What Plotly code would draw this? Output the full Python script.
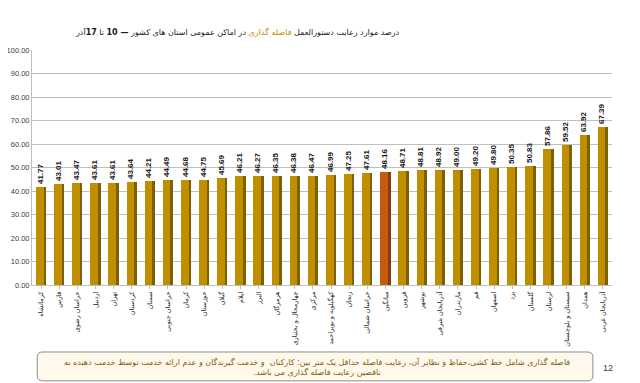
import plotly.graph_objects as go

provinces = [
    "کرمانشاه", "فارس", "خراسان رضوی", "اردبیل", "تهران", "کردستان", "سمنان",
    "خراسان جنوبی", "کرمان", "خوزستان", "گیلان", "ایلام", "البرز", "هرمزگان",
    "چهارمحال و بختیاری", "مرکزی", "کهگیلویه و بویراحمد", "زنجان", "خراسان شمالی",
    "میانگین", "قزوین", "بوشهر", "آذربایجان شرقی", "مازندران", "قم", "اصفهان",
    "یزد", "گلستان", "لرستان", "سیستان و بلوچستان", "همدان", "آذربایجان غربی",
]
values = [
    41.77, 43.01, 43.47, 43.61, 43.61, 43.64, 44.21, 44.49, 44.68, 44.75, 45.69,
    46.21, 46.27, 46.35, 46.38, 46.47, 46.99, 47.25, 47.61, 48.16, 48.71, 48.81,
    48.92, 49.00, 49.20, 49.80, 50.35, 50.83, 57.86, 59.52, 63.92, 67.39,
]
y_ticks = [0, 10, 20, 30, 40, 50, 60, 70, 80, 90, 100]
highlight = "میانگین"

face_colors = ["#C55A11" if p == highlight else "#BF8F00" for p in provinces]
side_colors = ["#843C0C" if p == highlight else "#7F6000" for p in provinces]

fig = go.Figure()
fig.add_trace(go.Bar(
    x=provinces, y=values, marker=dict(color=side_colors, line=dict(width=0)),
    offset=0.14, width=0.14, hoverinfo="skip", showlegend=False,
))
fig.add_trace(go.Bar(
    x=provinces, y=values, marker=dict(color=face_colors, line=dict(width=0)),
    offset=-0.28, width=0.42, showlegend=False,
    text=[f"<b>{v:.2f}</b>" for v in values], textposition="outside", textangle=-90,
    constraintext="none", cliponaxis=False,
    textfont=dict(family="Arial, Liberation Sans", size=8, color="#1a1a1a"),
))

# page body adds an 8px offset; figure sized to fit the 640x383 window
fig.update_layout(
    width=632, height=375,
    margin=dict(l=24, r=28, t=42, b=98),
    paper_bgcolor="white", plot_bgcolor="white",
    barmode="overlay", bargap=0.0,
    font=dict(family="DejaVu Sans", color="#333333"),
)
fig.update_yaxes(
    range=[0, 100], tickvals=y_ticks, ticktext=[f"{t:.2f}" for t in y_ticks],
    tickfont=dict(family="Liberation Sans, Arial", size=7.5, color="#404040"),
    showgrid=True, gridcolor="#BFBFBF", gridwidth=1,
    showline=True, linecolor="#BFBFBF", linewidth=1,
    ticks="", zeroline=False, automargin=False,
)
fig.update_xaxes(
    tickangle=-90, tickfont=dict(family="DejaVu Sans", size=6.5, color="#262626"),
    showline=True, linecolor="#BFBFBF", linewidth=1,
    ticks="outside", ticklen=3, tickcolor="#BFBFBF",
    showgrid=False, automargin=False,
)

# title
fig.add_annotation(
    xref="paper", yref="paper", x=0.355, y=1.0, yshift=18, xanchor="center", yanchor="middle",
    text="درصد موارد رعایت دستورالعمل <span style='color:#BF8F00'>فاصله گذاری</span> در اماکن عمومی استان های کشور <b>— 10</b> تا <b>17</b>آذر",
    showarrow=False, font=dict(family="DejaVu Sans", size=8, color="#1a1a1a"),
)

# note box
fig.add_shape(
    type="path", xref="paper", yref="paper",
    path="M 0.019,-0.285 L 0.957,-0.285 Q 0.967,-0.285 0.967,-0.305 L 0.967,-0.388 Q 0.967,-0.408 0.957,-0.408 "
         "L 0.019,-0.408 Q 0.009,-0.408 0.009,-0.388 L 0.009,-0.305 Q 0.009,-0.285 0.019,-0.285 Z",
    fillcolor="#FFF8EC", line=dict(color="#8C8C8C", width=1),
)
fig.add_annotation(
    xref="paper", yref="paper", x=0.492, y=-0.347, xanchor="center", yanchor="middle",
    text="فاصله گذاری شامل خط کشی،حفاظ و نظایر آن، رعایت فاصله حداقل یک متر بین: کارکنان  و خدمت گیرندگان و عدم ارائه خدمت توسط خدمت دهنده به<br>ناقضین رعایت فاصله گذاری می باشد.\u200f",
    showarrow=False, align="center",
    font=dict(family="DejaVu Sans", size=8, color="#7F6000"),
)
fig.add_annotation(
    xref="paper", yref="paper", x=0.993, y=-0.353, xanchor="center", yanchor="middle",
    text="12", showarrow=False, font=dict(family="Liberation Sans", size=9, color="#404040"),
)

fig.write_html("out.html")
